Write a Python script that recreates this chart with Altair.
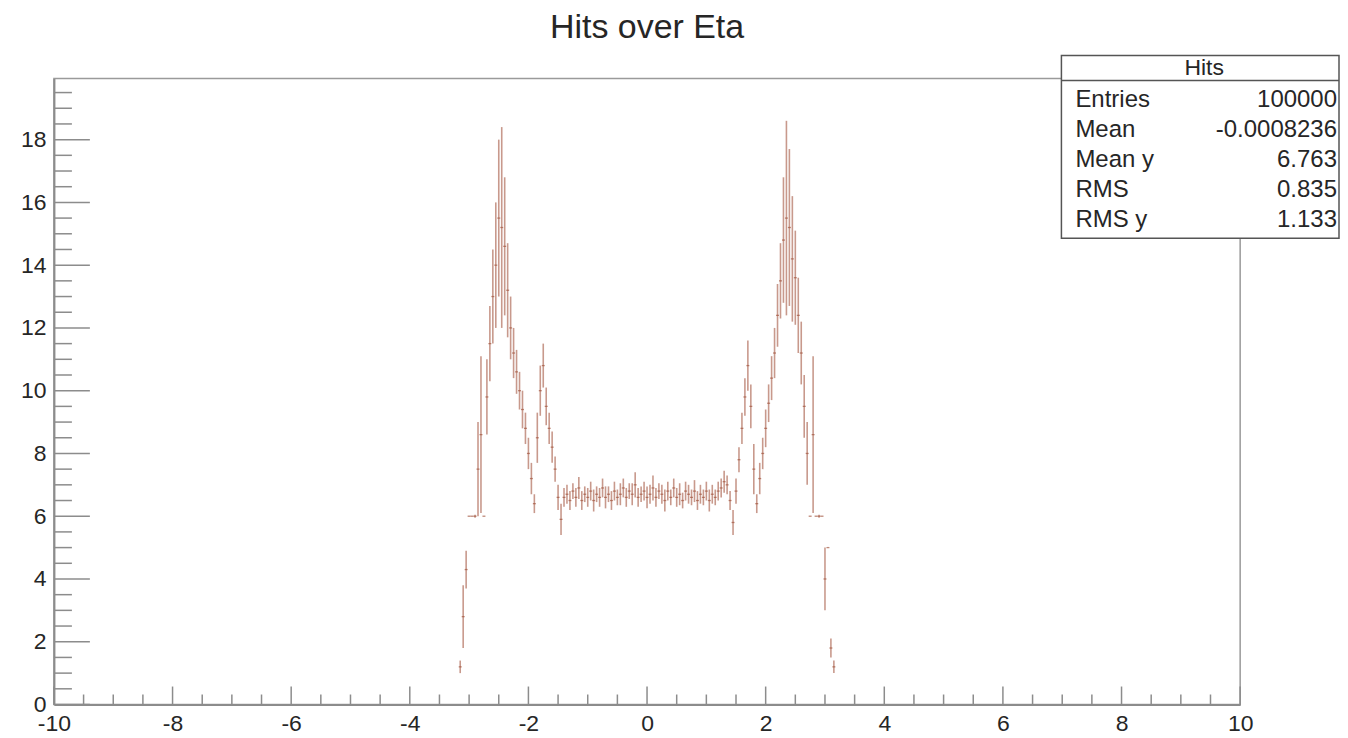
import altair as alt
import pandas as pd

# ---------------- data ----------------
ETA_START = -3.15          # centre of the first filled bin
ETA_STEP = 0.05            # bin width

# mean number of hits per eta bin (left shoulder, central plateau, right shoulder)
mean_left = [1.2, 2.8, 4.3, 6.0, 6.0, 6.0, 7.5, 8.6, 6.0, 9.8,
             11.5, 13.0, 14.0, 15.5, 15.2, 14.6, 13.2, 12.0, 11.2, 10.6,
             10.0, 9.4, 8.8, 8.0, 7.2, 6.4, 8.5, 10.0, 10.8, 9.5,
             8.8, 8.2, 7.5, 6.6, 5.9, 6.6]
mean_center = [6.7, 6.5, 6.8, 6.6, 6.9, 6.5, 6.7, 6.6, 6.8, 6.5,
               6.7, 6.6, 6.9, 6.6, 6.7, 6.5, 6.8, 6.6, 6.7, 6.9,
               6.6, 6.8, 6.7, 7.0, 6.6, 6.7, 6.8, 6.6, 6.7, 6.9,
               6.6, 6.8, 6.7, 6.5, 6.8, 6.6, 6.9, 6.6, 6.7, 6.5,
               6.8, 6.7, 6.6, 6.8, 6.5, 6.7, 6.6, 6.8, 6.5, 6.7,
               6.6, 6.8, 6.9, 7.1]
mean_right = [7.0, 6.5, 5.8, 6.8, 7.8, 8.8, 9.8, 10.8, 9.5, 7.5,
              6.4, 7.2, 8.0, 8.8, 9.6, 10.4, 11.2, 12.4, 13.5, 14.8,
              15.5, 15.2, 14.2, 13.6, 12.4, 11.2, 9.5, 8.0, 6.0, 8.6,
              6.0, 6.0, 6.0, 4.0, 5.0, 1.8, 1.2]

err_left = [0.2, 1.0, 0.6, 0.0, 0.0, 0.05, 1.5, 2.5, 0.0, 1.2,
            1.2, 1.5, 2.0, 2.5, 3.2, 2.2, 1.5, 1.0, 0.8, 0.7,
            0.6, 0.6, 0.5, 0.5, 0.5, 0.3, 0.8, 0.8, 0.7, 0.6,
            0.5, 0.5, 0.4, 0.4, 0.5, 0.3]
err_center = [0.30, 0.30, 0.25, 0.30, 0.35, 0.30, 0.25, 0.30, 0.30, 0.35,
              0.25, 0.30, 0.30, 0.35, 0.25, 0.30, 0.30, 0.25, 0.35, 0.30,
              0.30, 0.25, 0.35, 0.40, 0.30, 0.25, 0.30, 0.35, 0.30, 0.40,
              0.30, 0.25, 0.30, 0.35, 0.30, 0.25, 0.30, 0.30, 0.35, 0.25,
              0.30, 0.30, 0.25, 0.35, 0.30, 0.30, 0.25, 0.30, 0.35, 0.30,
              0.25, 0.30, 0.30, 0.35]
err_right = [0.3, 0.3, 0.4, 0.4, 0.4, 0.5, 0.6, 0.8, 0.7, 0.8,
             0.3, 0.5, 0.5, 0.6, 0.6, 0.7, 0.8, 1.0, 1.2, 2.0,
             3.1, 2.5, 2.0, 1.5, 1.2, 1.0, 1.0, 1.0, 0.0, 2.5,
             0.0, 0.05, 0.0, 1.0, 0.0, 0.3, 0.2]

x_major_ticks = [-10, -8, -6, -4, -2, 0, 2, 4, 6, 8, 10]
y_major_ticks = [0, 2, 4, 6, 8, 10, 12, 14, 16, 18]

chart_title = "Hits over Eta"
stats_title = "Hits"
stats_labels = ["Entries", "Mean", "Mean y", "RMS", "RMS y"]
stats_values = ["100000", "-0.0008236", "6.763", "0.835", "1.133"]

# ---------------- build table ----------------
mean_hits = mean_left + mean_center + mean_right
err_hits = err_left + err_center + err_right
assert len(mean_hits) == len(err_hits)
eta = [round(ETA_START + ETA_STEP * i, 3) for i in range(len(mean_hits))]
df = pd.DataFrame({"eta": eta, "hits": mean_hits, "err": err_hits})

x_minor_ticks = [v / 2 for v in range(-19, 20) if v % 4 != 0]
y_minor_ticks = [v / 2 for v in range(1, 40) if v % 4 != 0]

# ---------------- style ----------------
FONT = "Liberation Sans"
W, H = 1188, 627
DATA_C = "#a3553f"
AX_C = "#8c8c8c"
TXT_C = "#262626"

xscale = alt.Scale(domain=[-10, 10], nice=False, zero=False)
yscale = alt.Scale(domain=[0, 19.95], nice=False, zero=False)

xaxis = alt.Axis(values=x_major_ticks, grid=False, ticks=False, tickSize=0,
                 labelPadding=8, labelFlush=False, labelFontSize=23,
                 labelFont=FONT, labelColor=TXT_C, domainColor=AX_C,
                 domainWidth=2, title="", labelExpr="'' + datum.value")
yaxis = alt.Axis(values=y_major_ticks, grid=False, ticks=False, tickSize=0,
                 labelPadding=8, labelFontSize=23, labelFont=FONT,
                 labelColor=TXT_C, domainColor=AX_C, domainWidth=2, title="",
                 labelExpr="'' + datum.value")

base = alt.Chart(df).transform_calculate(
    lo="datum.hits - datum.err",
    hi="datum.hits + datum.err",
    x0="datum.eta - 0.025",
    x1="datum.eta + 0.025",
)

err_bars = base.mark_rule(color=DATA_C, strokeWidth=1.6, opacity=0.6).encode(
    x=alt.X("eta:Q", scale=xscale, axis=xaxis),
    y=alt.Y("lo:Q", scale=yscale, axis=yaxis),
    y2="hi:Q",
)
bin_marks = base.mark_rule(color=DATA_C, strokeWidth=1.3, opacity=0.7).encode(
    x=alt.X("x0:Q", scale=xscale, axis=xaxis),
    x2="x1:Q",
    y=alt.Y("hits:Q", scale=yscale, axis=yaxis),
)

# inward ticks, ROOT style
ymaj = alt.Chart(pd.DataFrame({"v": y_major_ticks})).mark_rule(
    color=AX_C, strokeWidth=1.5).encode(
    y=alt.Y("v:Q", scale=yscale, axis=yaxis), x=alt.value(0), x2=alt.value(36))
ymin = alt.Chart(pd.DataFrame({"v": y_minor_ticks})).mark_rule(
    color=AX_C, strokeWidth=1.5).encode(
    y=alt.Y("v:Q", scale=yscale, axis=yaxis), x=alt.value(0), x2=alt.value(18))
xmaj = alt.Chart(pd.DataFrame({"v": x_major_ticks})).mark_rule(
    color=AX_C, strokeWidth=1.5).encode(
    x=alt.X("v:Q", scale=xscale, axis=xaxis), y=alt.value(H), y2=alt.value(H - 18))
xmin = alt.Chart(pd.DataFrame({"v": x_minor_ticks})).mark_rule(
    color=AX_C, strokeWidth=1.5).encode(
    x=alt.X("v:Q", scale=xscale, axis=xaxis), y=alt.value(H), y2=alt.value(H - 10))

one = pd.DataFrame({"k": [0]})

# title
title = alt.Chart(one).mark_text(text=chart_title, font=FONT, fontSize=34,
                                 color=TXT_C, align="center", baseline="alphabetic").encode(
    x=alt.value(W / 2), y=alt.value(-41))

# statistics box
BX0, BX1, BY0, BY1 = 1009, 1287, -23, 160
SF = 24
box = alt.Chart(one).mark_rect(fill="white", stroke="#555555", strokeWidth=1.5).encode(
    x=alt.value(BX0), x2=alt.value(BX1), y=alt.value(BY0), y2=alt.value(BY1))
sep = alt.Chart(one).mark_rule(color="#555555", strokeWidth=1.5).encode(
    x=alt.value(BX0), x2=alt.value(BX1), y=alt.value(2))
layers = [box, sep,
          alt.Chart(one).mark_text(text=stats_title, font=FONT, fontSize=SF - 1,
                                   color=TXT_C, align="center", baseline="middle").encode(
              x=alt.value((BX0 + BX1) / 2 + 4), y=alt.value(-10))]
for i, (lab, val) in enumerate(zip(stats_labels, stats_values)):
    yy = 22 + 30 * i
    layers.append(alt.Chart(one).mark_text(text=lab, font=FONT, fontSize=SF, color=TXT_C,
                                           align="left", baseline="middle").encode(
        x=alt.value(BX0 + 14), y=alt.value(yy)))
    layers.append(alt.Chart(one).mark_text(text=val, font=FONT, fontSize=SF, color=TXT_C,
                                           align="right", baseline="middle").encode(
        x=alt.value(BX1 - 2), y=alt.value(yy)))

chart = alt.layer(err_bars, bin_marks, ymaj, ymin, xmaj, xmin, title, *layers).properties(
    width=W, height=H,
    autosize=alt.AutoSizeParams(type="none"),
    padding={"left": 46, "top": 70, "right": 100, "bottom": 30},
    background="white",
).configure_view(stroke="#9a9a9a", strokeWidth=1.5)

chart.save("out.html", embed_options={"renderer": "svg", "actions": False})
